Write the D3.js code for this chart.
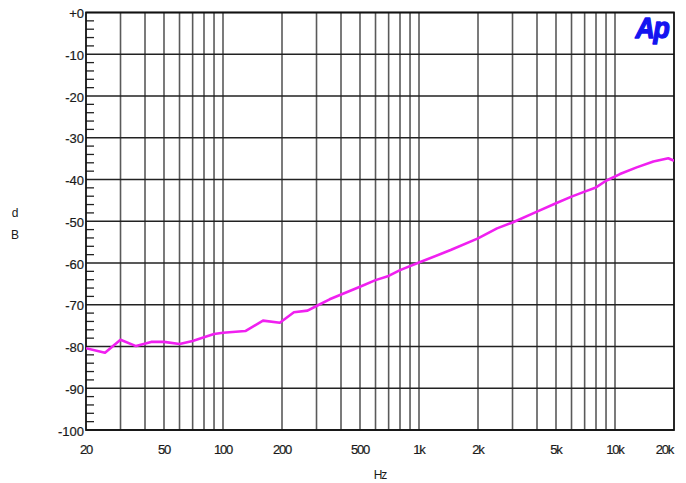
<!DOCTYPE html>
<html>
<head>
<meta charset="utf-8">
<script src="https://cdn.jsdelivr.net/npm/d3@7/dist/d3.min.js"></script>
<style>
  html, body { margin: 0; padding: 0; background: #fff; }
  svg { display: block; }
  text { font-family: "Liberation Sans", Arial, sans-serif; }
</style>
</head>
<body>
<svg id="chart" width="686" height="483"></svg>
<script>
// Measured response: frequency (Hz) and level (dB)
const freqs = [20, 25, 30, 36, 43, 50, 60, 70, 80, 90, 100, 130, 160, 195, 230, 270, 300, 350,
  500, 600, 700, 800, 1000, 1450, 2000, 2500, 3000, 4000, 5000, 6000, 7000, 8000, 9000,
  10600, 12900, 15700, 18700, 20000];
const levels = [-80.4, -81.5, -78.4, -79.9, -78.9, -78.9, -79.4, -78.7, -77.8, -77.0, -76.7, -76.3,
  -73.8, -74.3, -71.8, -71.4, -70.3, -68.7, -65.7, -64.1, -63.1, -61.7, -59.9, -56.9, -54.1,
  -51.7, -50.3, -47.7, -45.7, -44.1, -42.9, -41.9, -40.3, -38.7, -37.1, -35.7, -34.9, -35.5];

const yTicks = [0, -10, -20, -30, -40, -50, -60, -70, -80, -90, -100];
const yTickLabels = ["+0", "-10", "-20", "-30", "-40", "-50", "-60", "-70", "-80", "-90", "-100"];
const xTicks = [20, 50, 100, 200, 500, 1000, 2000, 5000, 10000, 20000];
const xTickLabels = ["20", "50", "100", "200", "500", "1k", "2k", "5k", "10k", "20k"];

const plotLeft = 86, plotRight = 674, plotTop = 12.5, plotBottom = 430;

const svg = d3.select("#chart");
const x = d3.scaleLog().domain([20, 20000]).range([plotLeft, plotRight]);
const y = d3.scaleLinear().domain([-100, 0]).range([plotBottom, plotTop]);

// Vertical grid at every 1-9 multiple of each decade
const gridFreqs = [];
for (let dec = 10; dec <= 10000; dec *= 10) {
  for (let m = 1; m <= 9; m++) {
    const f = m * dec;
    if (f > 20 && f < 20000) gridFreqs.push(f);
  }
}
svg.append("g").selectAll("line").data(gridFreqs).join("line")
  .attr("x1", d => x(d)).attr("x2", d => x(d))
  .attr("y1", plotTop).attr("y2", plotBottom)
  .attr("stroke", "#5a5a5a").attr("stroke-width", 1.6);

// Horizontal grid every 10 dB
svg.append("g").selectAll("line").data(yTicks).join("line")
  .attr("x1", plotLeft).attr("x2", plotRight)
  .attr("y1", d => y(d)).attr("y2", d => y(d))
  .attr("stroke", "#222").attr("stroke-width", 1.3);

// Minor ticks every 2 dB on the left axis
const minor = d3.range(-98, 0, 2).filter(v => v % 10 !== 0);
svg.append("g").selectAll("line").data(minor).join("line")
  .attr("x1", plotLeft).attr("x2", plotLeft + 8)
  .attr("y1", d => y(d)).attr("y2", d => y(d))
  .attr("stroke", "#222").attr("stroke-width", 1.3);

// Frame
svg.append("rect")
  .attr("x", plotLeft).attr("y", plotTop)
  .attr("width", plotRight - plotLeft).attr("height", plotBottom - plotTop)
  .attr("fill", "none").attr("stroke", "#111").attr("stroke-width", 1.8);

// Curve
svg.append("clipPath").attr("id", "plotClip").append("rect")
  .attr("x", plotLeft).attr("y", plotTop)
  .attr("width", plotRight - plotLeft).attr("height", plotBottom - plotTop);
const line = d3.line().x((d, i) => x(freqs[i])).y(d => y(d));
svg.append("path")
  .datum(levels)
  .attr("clip-path", "url(#plotClip)")
  .attr("d", line)
  .attr("fill", "none")
  .attr("stroke", "#f020f0")
  .attr("stroke-width", 2.6)
  .attr("stroke-linejoin", "round");

// Y tick labels
svg.append("g").selectAll("text").data(yTicks).join("text")
  .attr("x", plotLeft - 2).attr("y", d => y(d) + 5.5)
  .attr("text-anchor", "end")
  .attr("font-size", 13).attr("fill", "#1a1a1a")
  .attr("stroke", "#1a1a1a").attr("stroke-width", 0.2)
  .text((d, i) => yTickLabels[i]);

// X tick labels
svg.append("g").selectAll("text").data(xTicks).join("text")
  .attr("x", (d, i) => i === xTicks.length - 1 ? plotRight - 1 : x(d))
  .attr("y", plotBottom + 23.5)
  .attr("text-anchor", (d, i) => i === xTicks.length - 1 ? "end" : "middle")
  .attr("font-size", 13).attr("letter-spacing", -1.2).attr("fill", "#1a1a1a")
  .attr("stroke", "#1a1a1a").attr("stroke-width", 0.2)
  .text((d, i) => xTickLabels[i]);

// Axis titles
svg.append("text").attr("x", 380).attr("y", 479).attr("text-anchor", "middle")
  .attr("font-size", 12).attr("letter-spacing", -1).attr("fill", "#1a1a1a").text("Hz");
svg.append("text").attr("x", 15).attr("y", 217).attr("text-anchor", "middle")
  .attr("font-size", 12).attr("fill", "#1a1a1a").text("d");
svg.append("text").attr("x", 15).attr("y", 239).attr("text-anchor", "middle")
  .attr("font-size", 12).attr("fill", "#1a1a1a").text("B");

// Logo
svg.append("text")
  .attr("transform", "translate(652,38) scale(0.92,1)")
  .attr("text-anchor", "middle")
  .attr("font-size", 29).attr("font-weight", "bold").attr("font-style", "italic")
  .attr("letter-spacing", -1.5)
  .attr("fill", "#1414f0")
  .attr("stroke", "#1414f0").attr("stroke-width", 1.4).attr("stroke-linejoin", "round")
  .text("Ap");
</script>
</body>
</html>
